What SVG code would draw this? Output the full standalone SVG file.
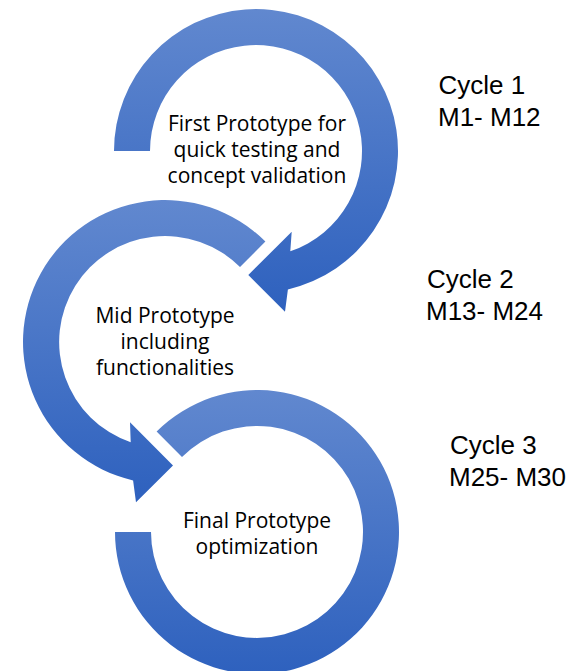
<svg xmlns="http://www.w3.org/2000/svg" width="574" height="671" viewBox="0 0 574 671">
  <defs>
    <linearGradient id="blueGrad" x1="0" y1="0" x2="0" y2="1">
      <stop offset="0" stop-color="#6188CF"/>
      <stop offset="1" stop-color="#2E61BE"/>
    </linearGradient>
  </defs>
  <style>
    .arc { fill: url(#blueGrad); stroke: none; }
    .body { font-family: "Open Sans", "Noto Sans", sans-serif; font-size: 21px; fill: #000; text-anchor: middle; }
    .cycle { font-family: "Liberation Sans", Arial, sans-serif; font-size: 26px; fill: #000; }
  </style>
  <rect width="574" height="671" fill="#ffffff"/>
  <g id="connectors">
    <path id="arc-1" class="arc" d="M114,151 A142,142 0 1 1 287.9,289.4 L285,311.7 L248.3,275 L291.7,231.7 L290.3,251.3 A106,106 0 1 0 150,151 Z"/>
    <path id="arc-2" class="arc" d="M265.4,241.6 A142,142 0 1 0 133.1,480.4 L136,502.2 L173,465.5 L130,422.2 L130.7,442.3 A106,106 0 1 1 240,267 Z"/>
    <path id="arc-3" class="arc" d="M156.6,431.6 A142,142 0 1 1 115,532 L151,532 A106,106 0 1 0 182,457 Z"/>
  </g>
  <g id="node-1">
    <text class="body" x="257" y="131">First Prototype for</text>
    <text class="body" x="257" y="157">quick testing and</text>
    <text class="body" x="257" y="183">concept validation</text>
    <text class="cycle" x="438.5" y="94">Cycle 1</text>
    <text class="cycle" x="438" y="125.5">M1- M12</text>
  </g>
  <g id="node-2">
    <text class="body" x="165" y="323">Mid Prototype</text>
    <text class="body" x="165" y="349">including</text>
    <text class="body" x="165" y="375">functionalities</text>
    <text class="cycle" x="427" y="288">Cycle 2</text>
    <text class="cycle" x="426" y="319.5">M13- M24</text>
  </g>
  <g id="node-3">
    <text class="body" x="257" y="528">Final Prototype</text>
    <text class="body" x="257" y="554">optimization</text>
    <text class="cycle" x="450" y="454">Cycle 3</text>
    <text class="cycle" x="449" y="486">M25- M30</text>
  </g>
</svg>
